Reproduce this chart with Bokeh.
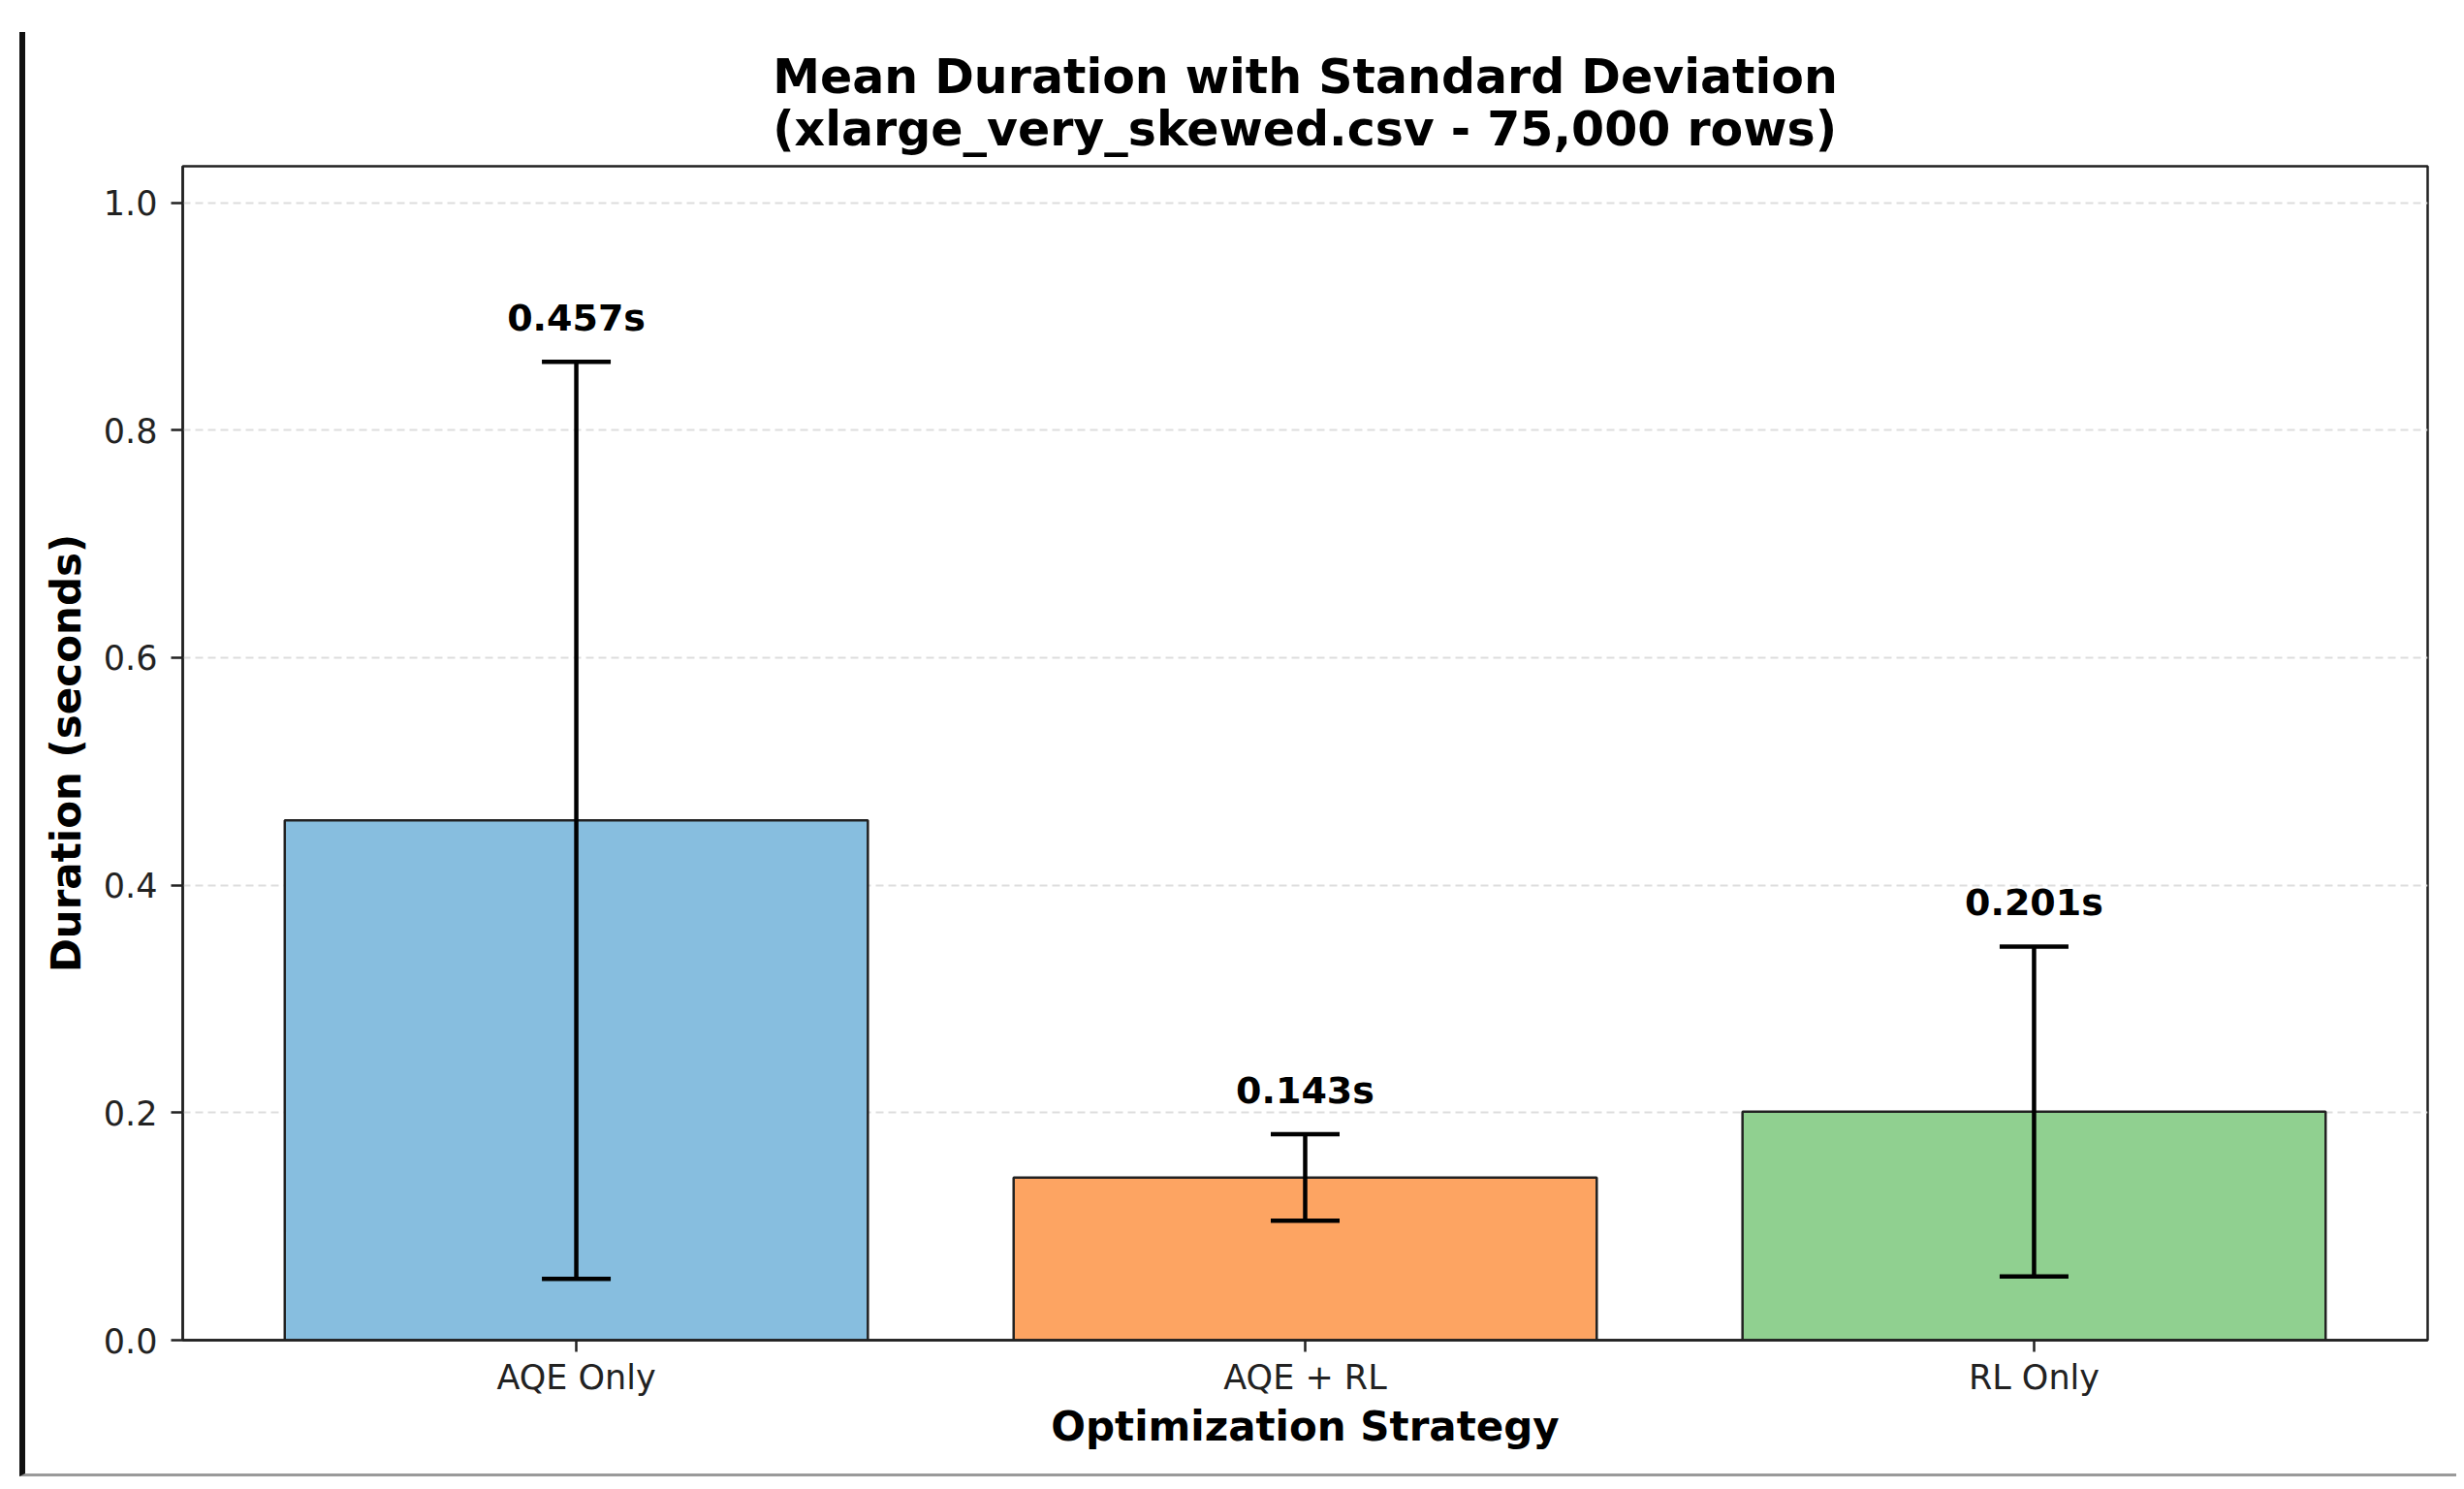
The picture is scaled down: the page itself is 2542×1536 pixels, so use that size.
from bokeh.plotting import figure
from bokeh.models import ColumnDataSource, Range1d, FixedTicker, Whisker, TeeHead, Title
from bokeh.layouts import column
from bokeh.embed import file_html
from bokeh.resources import INLINE
from bokeh.core.properties import value

# ---- data ----
strategies = ["AQE Only", "AQE + RL", "RL Only"]
mean_duration = [0.457, 0.143, 0.201]
std_duration = [0.403, 0.038, 0.145]
bar_colors = ["#87BEDF", "#FDA462", "#90D090"]
y_ticks = [0.0, 0.2, 0.4, 0.6, 0.8, 1.0]
y_tick_labels = ["0.0", "0.2", "0.4", "0.6", "0.8", "1.0"]
title_line1 = "Mean Duration with Standard Deviation"
title_line2 = "(xlarge_very_skewed.csv - 75,000 rows)"
x_label = "Optimization Strategy"
y_label = "Duration (seconds)"

xpos = list(range(len(strategies)))
upper = [m + s for m, s in zip(mean_duration, std_duration)]
lower = [m - s for m, s in zip(mean_duration, std_duration)]
labels = [f"{m:.3f}s" for m in mean_duration]

src = ColumnDataSource(dict(x=xpos, mean=mean_duration, upper=upper, lower=lower,
                            color=bar_colors, label=labels))

FONT = "DejaVu Sans"
DARK = "#222222"

p = figure(width=2508, height=1487, output_backend="svg", toolbar_location=None,
           x_range=Range1d(-0.54, 2.54), y_range=Range1d(0, max(upper) * 1.2),
           min_border_left=162, min_border_right=30, min_border_top=138, min_border_bottom=138)

p.add_layout(Title(text=title_line1 + "\n" + title_line2, align="center", text_font=FONT,
                   text_font_size="49px", text_font_style="bold", text_color="black",
                   text_line_height=0.957, standoff=18), "above")

p.vbar(x="x", top="mean", width=0.8, bottom=0, source=src, fill_color="color",
       line_color=DARK, line_width=2.5)

wh = Whisker(base="x", upper="upper", lower="lower", source=src, line_color="black", line_width=4.5,
             level="annotation",
             upper_head=TeeHead(size=71, line_color="black", line_width=4.5),
             lower_head=TeeHead(size=71, line_color="black", line_width=4.5))
p.add_layout(wh)

p.text(x="x", y="upper", text="label", source=src, text_align="center", text_baseline="alphabetic",
       y_offset=-45, text_font=value(FONT), text_font_size="38px", text_font_style="bold",
       text_color="black", level="annotation")

# axes
p.xaxis.ticker = FixedTicker(ticks=xpos)
p.xaxis.major_label_overrides = {i: s for i, s in zip(xpos, strategies)}
p.yaxis.ticker = FixedTicker(ticks=y_ticks)
p.yaxis.major_label_overrides = {t: l for t, l in zip(y_ticks, y_tick_labels)}
p.xaxis.axis_label = x_label
p.yaxis.axis_label = y_label

for ax in (p.xaxis, p.yaxis):
    ax.axis_line_color = DARK
    ax.axis_line_width = 2.5
    ax.major_tick_line_color = DARK
    ax.major_tick_line_width = 2.5
    ax.major_tick_out = 12
    ax.major_tick_in = 0
    ax.minor_tick_line_color = None
    ax.major_label_text_font = FONT
    ax.major_label_text_font_size = "35px"
    ax.major_label_text_color = "#222222"
    ax.axis_label_text_font = FONT
    ax.axis_label_text_font_size = "42px"
    ax.axis_label_text_font_style = "bold"
    ax.axis_label_text_color = "black"

p.xaxis.major_label_standoff = 6
p.xaxis.axis_label_standoff = 3
p.yaxis.major_label_standoff = 14
p.yaxis.axis_label_standoff = 11

p.xgrid.visible = False
p.ygrid.grid_line_color = "#dddddd"
p.ygrid.grid_line_width = 2
p.ygrid.grid_line_dash = "8 5"

p.outline_line_color = DARK
p.outline_line_width = 2.5
p.background_fill_color = "white"
p.border_fill_color = "white"

layout = column(p, margin=(33, 0, 0, 20),
                styles={"border-left": "6px solid #111111", "border-bottom": "3px solid #9a9a9a"})

open("out.html", "w").write(file_html(layout, INLINE))
